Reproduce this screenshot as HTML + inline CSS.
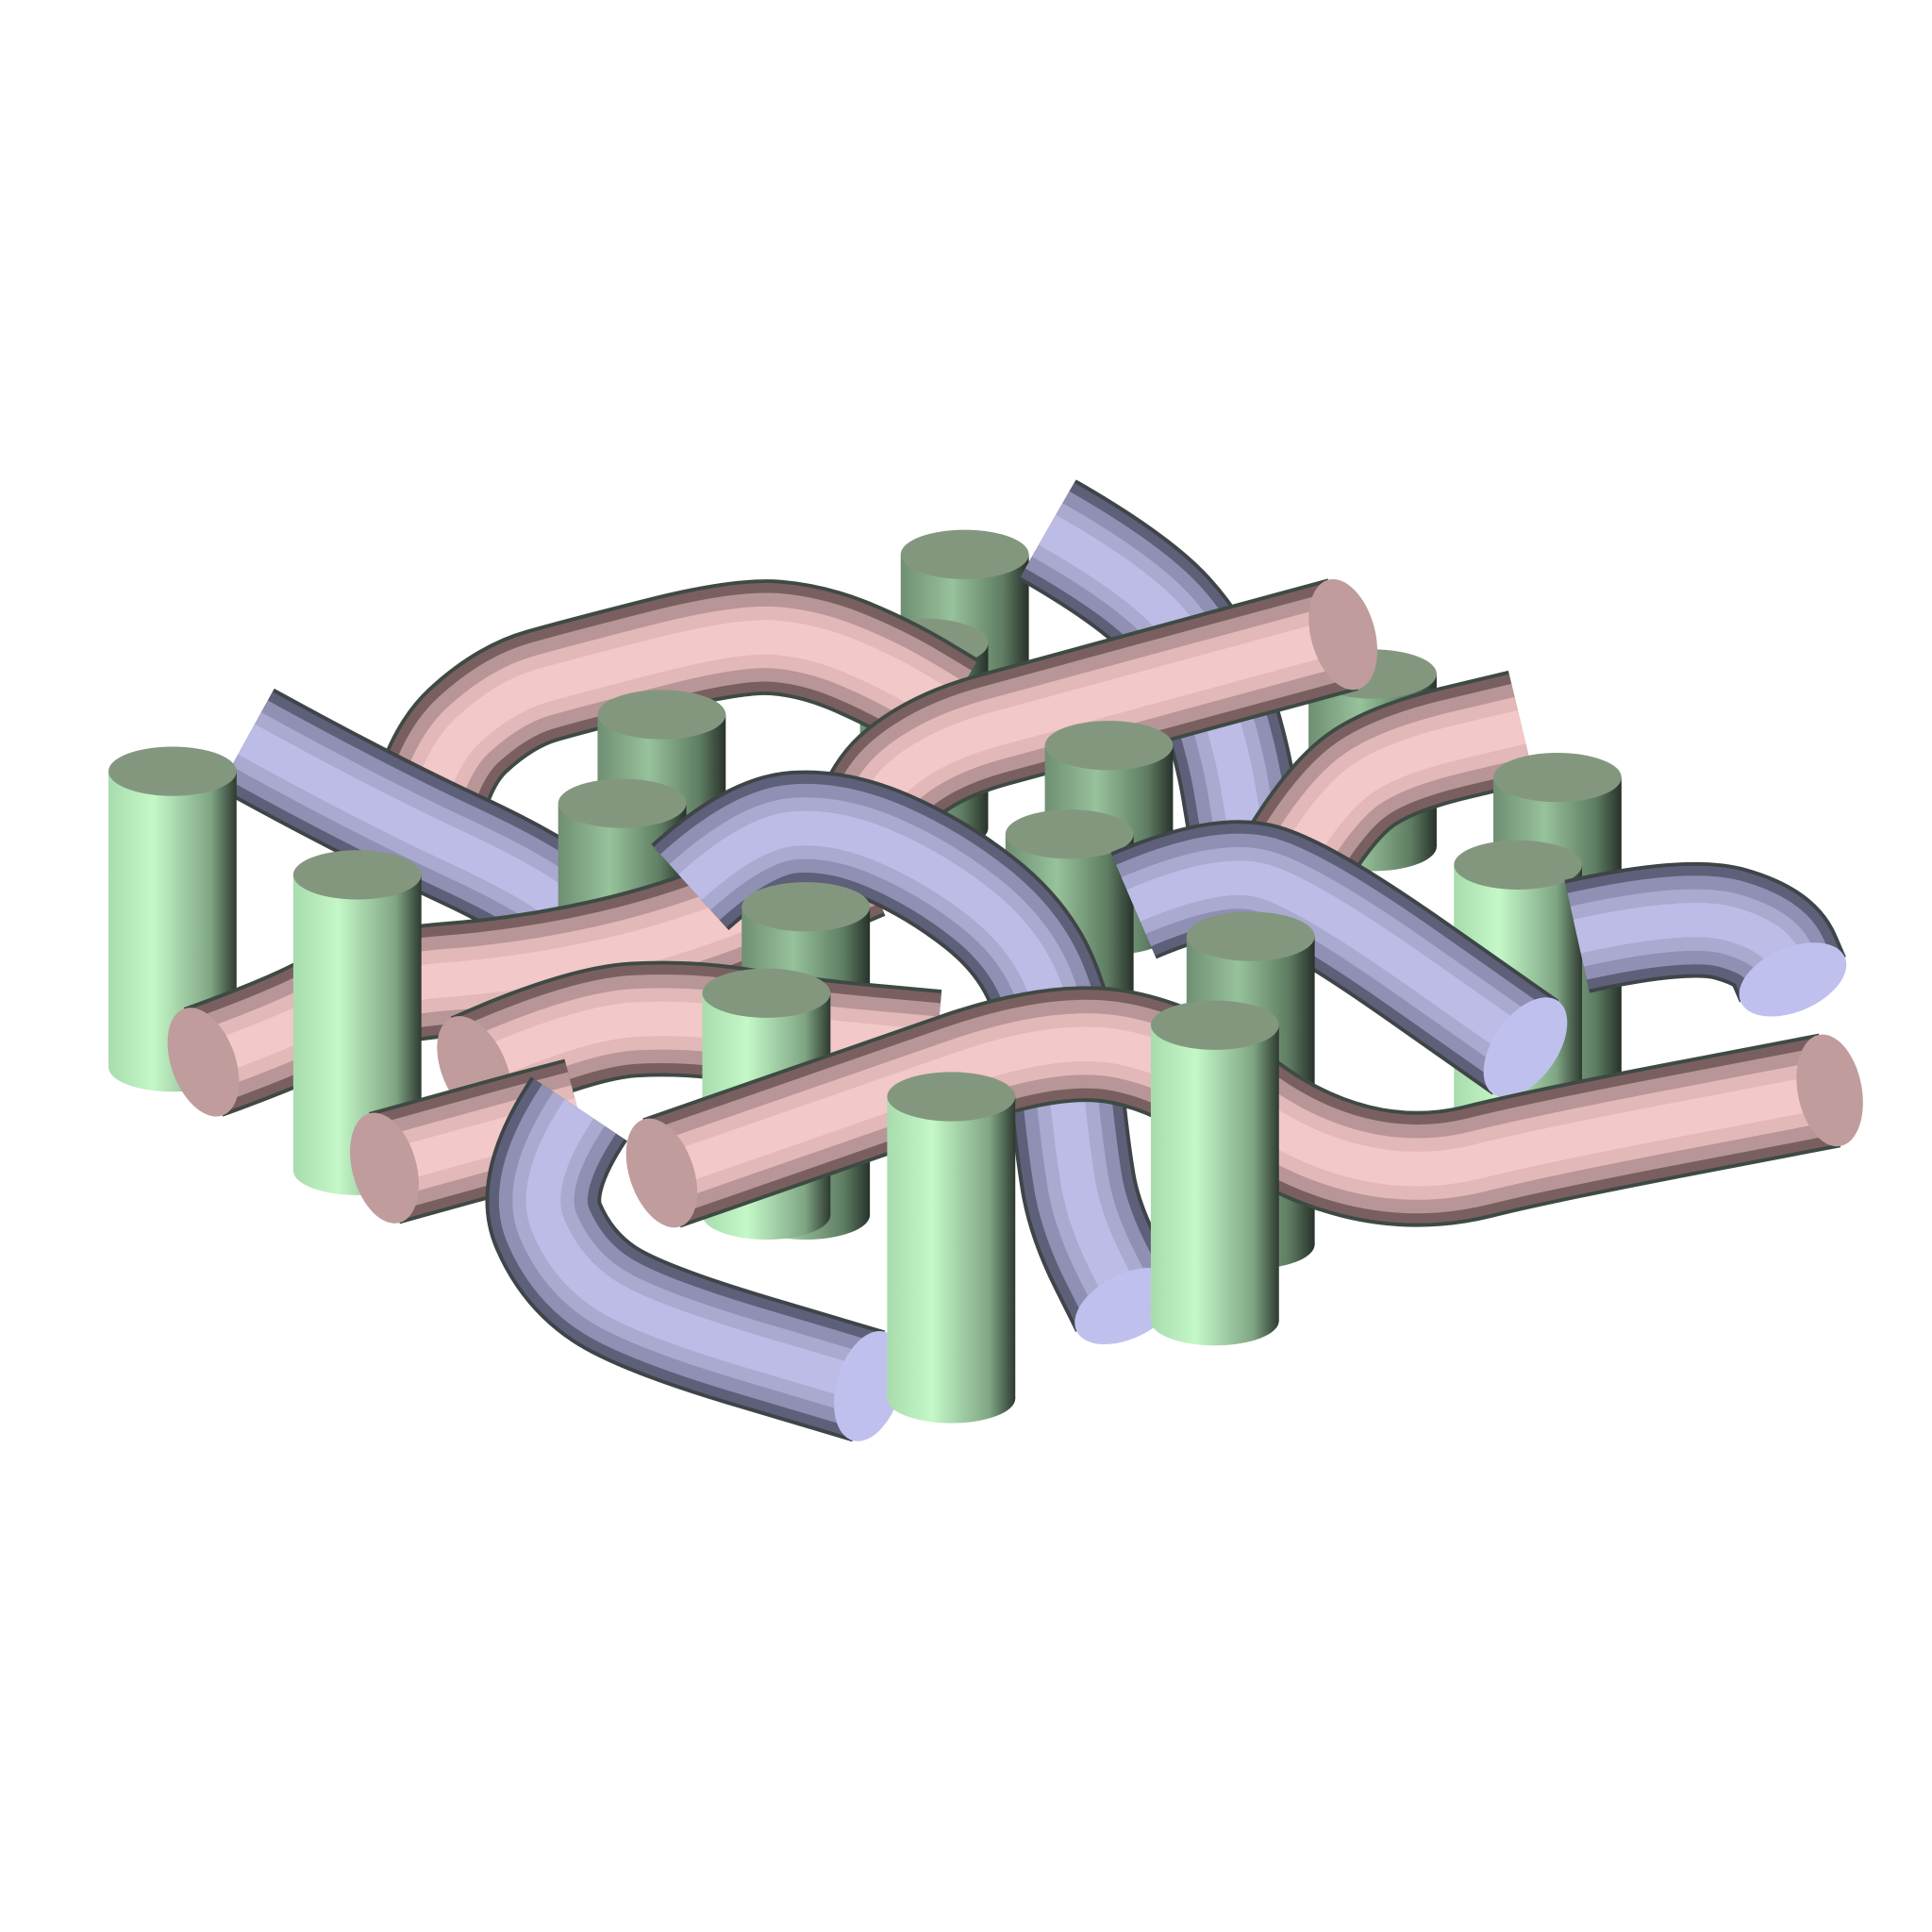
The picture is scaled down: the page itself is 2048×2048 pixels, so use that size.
<!DOCTYPE html>
<html><head><meta charset="utf-8"><style>
html,body{margin:0;padding:0;background:#fff;}
svg{display:block;}
</style></head><body>
<svg id="scene" width="2048" height="2048" viewBox="0 0 1568 1568" xmlns="http://www.w3.org/2000/svg">
<defs>
<linearGradient id="gFront" x1="0" x2="1" y1="0" y2="0">
<stop offset="0" stop-color="#a9dcad"/><stop offset="0.35" stop-color="#c4f8c8"/><stop offset="0.8" stop-color="#7fa583"/><stop offset="1" stop-color="#2e3a30"/></linearGradient>
<linearGradient id="gBack" x1="0" x2="1" y1="0" y2="0">
<stop offset="0" stop-color="#6f8f73"/><stop offset="0.4" stop-color="#97c29b"/><stop offset="0.8" stop-color="#5e7c62"/><stop offset="1" stop-color="#28322a"/></linearGradient>
</defs>
<g id="layer"></g>
</svg>
<script>
const NS='http://www.w3.org/2000/svg';
const layer=document.getElementById('layer');
// cylinders: [cx, topY, height, front?]
const cylinders=[
[783,450,170,0],[750,522,150,0],[537,580,200,0],[1114,547,140,0],[900,605,150,0],
[1264,631,240,0],[140,626,240,1],[505,652,200,0],[868,677,150,0],[1232,702,200,1],
[654,736,250,0],[1015,760,250,0],[290,710,240,1],[622,806,180,1],[986,832,240,1],[772,890,245,1]
];
const pinkTubes=[
[[340,690],[350,620],[410,565],[470,548],[600,515],[660,520],[720,545],[770,575]],
[[700,700],[705,650],[760,605],[850,580],[1090,515]],
[[1050,700],[1080,650],[1130,615],[1235,590]],
[[165,862],[240,835],[300,800],[430,790],[560,760],[700,700]],
[[385,868],[470,830],[560,825],[650,840],[760,850]],
[[312,948],[420,918],[470,905]],
[[537,952],[700,895],[860,840],[960,860],[1050,930],[1150,955],[1250,930],[1485,885]]
];
const pinkCaps=[[0,0],[0,1],[0,0],[1,0],[1,0],[1,0],[1,1]];
const blueTubes=[
[[200,600],[300,655],[440,720],[480,760],[500,820],[505,870]],
[[850,430],[920,470],[975,530],[1000,610],[1010,670]],
[[560,720],[610,675],[680,670],[760,705],[830,760],[860,830],[870,930],[880,990],[915,1060]],
[[920,735],[990,705],[1060,725],[1238,850]],
[[1280,760],[1370,740],[1440,760],[1455,795]],
[[470,900],[430,960],[460,1030],[520,1070],[705,1125]]
];
const blueCaps=[[0,0],[0,0],[0,1],[0,1],[0,1],[0,1]];
// paint order
const order=[
['c',0],['b',1],['c',1],['p',0],['c',3],['p',1],['c',2],['c',4],['p',2],['c',5],
['b',0],['c',6],['c',7],['c',8],['p',3],['b',2],['c',9],['b',3],['b',4],['c',10],
['c',11],['p',4],['c',12],['p',5],['b',5],['c',13],['p',6],['c',14],['c',15]
];
function el(tag,attrs){const e=document.createElementNS(NS,tag);for(const k in attrs)e.setAttribute(k,attrs[k]);return e;}
function drawCyl(i){
 const [cx,ty,h,front]=cylinders[i];const w=52,ry=20;
 const g=el('g',{});
 
 
 const fill=front?'url(#gFront)':'url(#gBack)';
 g.appendChild(el('ellipse',{cx:cx,cy:ty+h,rx:w,ry:ry,fill:fill}));
 g.appendChild(el('rect',{x:cx-w,y:ty,width:2*w,height:h,fill:fill}));
 g.appendChild(el('ellipse',{cx:cx,cy:ty,rx:w,ry:ry,fill:'#83977f'}));
 layer.appendChild(g);
}
function pathD(pts){let d='M'+pts[0][0]+' '+pts[0][1];
 for(let i=1;i<pts.length-1;i++){const mx=(pts[i][0]+pts[i+1][0])/2,my=(pts[i][1]+pts[i+1][1])/2;d+=' Q'+pts[i][0]+' '+pts[i][1]+' '+mx+' '+my;}
 const l=pts[pts.length-1];d+=' L'+l[0]+' '+l[1];return d;}
function addCap(g,e,p,kind){
 const ang=Math.atan2(e[1]-p[1],e[0]-p[0])*180/Math.PI;
 const cap=el('ellipse',{cx:e[0],cy:e[1],rx:26,ry:46,fill:kind==='p'?'#c09c9c':'#c0c0ee',transform:'rotate('+ang+' '+e[0]+' '+e[1]+')'});
 
 
 g.appendChild(cap);
}
function drawTube(pts,kind,i,caps){
 const g=el('g',{});
 
 
 const cols=kind==='p'?['#3e4a44','#7a5f60','#b89697','#e2b8b8','#f3c8c8']:['#3e4448','#5e5f78','#8f90b4','#aaaad0','#bcbce6'];
 const widths=[94,88,72,50,28];
 const d=pathD(pts);
 for(let k=0;k<5;k++)g.appendChild(el('path',{d:d,fill:'none',stroke:cols[k],'stroke-width':widths[k],'stroke-linecap':'butt','stroke-linejoin':'round'}));
 const n=pts.length;
 if(caps[0])addCap(g,pts[0],pts[1],kind);
 if(caps[1])addCap(g,pts[n-1],pts[n-2],kind);
 layer.appendChild(g);
}
for(const [t,i] of order){
 if(t==='c')drawCyl(i);
 else if(t==='p')drawTube(pinkTubes[i],'p',i,pinkCaps[i]);
 else drawTube(blueTubes[i],'b',i,blueCaps[i]);
}
</script>
</body></html>
